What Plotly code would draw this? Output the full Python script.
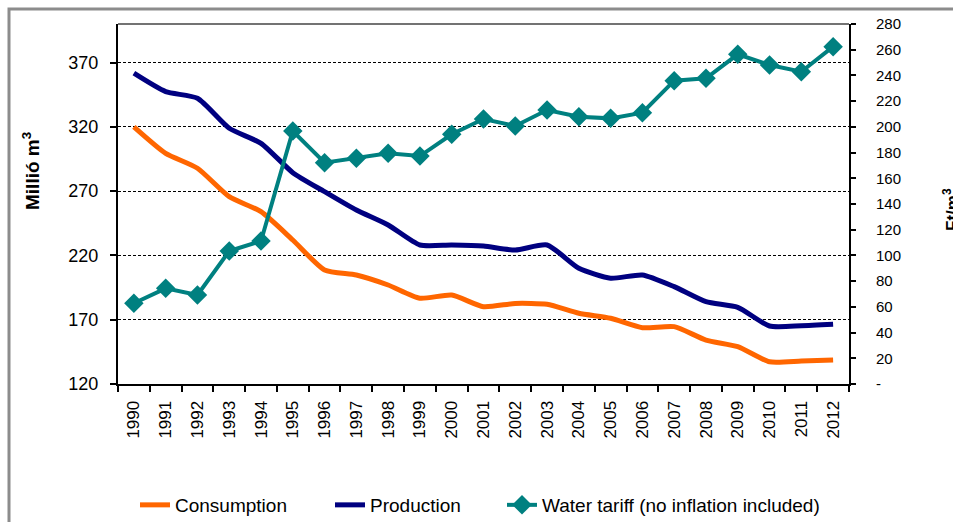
import plotly.graph_objects as go

years = [str(y) for y in range(1990, 2013)]

consumption = [320, 299.4, 287.8, 265.7, 254, 232, 208.7, 204.8, 197, 186.7, 189.2,
               180.1, 182.7, 182, 175, 171.1, 163.8, 164.6, 154.2, 149, 137.3, 137.9, 138.7]
production = [361.7, 347.4, 342.2, 318.9, 307.2, 284.4, 269.6, 255.3, 243.7, 228.1, 228.1,
              227.3, 224.2, 228.1, 210, 202.2, 204.8, 195.7, 184, 179.6, 165.1, 165.3, 166.4]
tariff = [62.8, 74.4, 69.2, 103.4, 111.2, 196.8, 172.1, 175.5, 179.4, 177.3, 194.2,
          206.1, 200.7, 213.1, 207.9, 206.6, 211, 235.9, 237.8, 256.4, 248.1, 242.9, 262.4]

left_ticks = [120, 170, 220, 270, 320, 370]
right_ticks = list(range(0, 281, 20))
right_ticktext = ["-"] + [str(v) for v in right_ticks[1:]]

W, H = 953, 522
L, R, T, B = 118, 849, 24, 384


def px_x(px):
    return (px - L) / (R - L)


def px_y(py):
    return (B - py) / (B - T)


FONT = "Liberation Sans, Arial, sans-serif"
LEG_FONT = dict(family=FONT, size=19, color="black")

fig = go.Figure()
fig.add_trace(go.Scatter(
    x=years, y=consumption, name="Consumption", mode="lines", legend="legend",
    line=dict(color="#FF6600", width=5, shape="spline", smoothing=0.6),
))
fig.add_trace(go.Scatter(
    x=years, y=production, name="Production", mode="lines", legend="legend2",
    line=dict(color="#000080", width=5, shape="spline", smoothing=0.6),
))
fig.add_trace(go.Scatter(
    x=years, y=tariff, name="Water tariff (no inflation included)", mode="lines+markers",
    legend="legend3",
    line=dict(color="#008080", width=4),
    marker=dict(symbol="diamond", size=15, color="#008080"),
    yaxis="y2",
))


def legend_at(px):
    return dict(
        orientation="h", x=px_x(px), y=px_y(505), xanchor="left", yanchor="middle",
        font=LEG_FONT, itemwidth=30, bgcolor="rgba(0,0,0,0)",
    )


fig.update_layout(
    width=W, height=H,
    margin=dict(l=L, r=W - R, t=T, b=H - B, autoexpand=False),
    paper_bgcolor="white", plot_bgcolor="white",
    font=dict(family=FONT, size=16, color="black"),
    showlegend=True,
    legend=legend_at(135),
    legend2=legend_at(330),
    legend3=legend_at(502),
    xaxis=dict(
        type="category", range=[-0.5, 22.5], tickangle=-90, tickson="boundaries",
        showline=True, linecolor="black", linewidth=2,
        ticks="outside", ticklen=6, tickcolor="black", tickwidth=1.5,
        showgrid=False, zeroline=False, ticklabelstandoff=8, automargin=False,
        tickfont=dict(size=17),
    ),
    yaxis=dict(
        range=[120, 400], tickvals=left_ticks,
        showline=True, linecolor="black", linewidth=2,
        ticks="outside", ticklen=6, tickcolor="black", tickwidth=1.5,
        showgrid=True, gridcolor="black", gridwidth=1, griddash="3px,2px",
        zeroline=False, ticklabelstandoff=8, automargin=False, tickfont=dict(size=18),
    ),
    yaxis2=dict(
        range=[0, 280], tickvals=right_ticks, ticktext=right_ticktext,
        overlaying="y", side="right",
        showline=True, linecolor="black", linewidth=2,
        ticks="outside", ticklen=5, tickcolor="black", tickwidth=1.5,
        showgrid=False, zeroline=False, ticklabelstandoff=17, automargin=False,
        tickfont=dict(size=15),
    ),
    annotations=[
        dict(text="<b>Millió m<sup>3</sup></b>", xref="paper", yref="paper",
             x=px_x(31), y=px_y(171), xanchor="center", yanchor="middle",
             textangle=-90, showarrow=False, font=dict(size=19, color="black")),
        dict(text="<b>Ft/m<sup>3</sup></b>", xref="paper", yref="paper",
             x=px_x(938), y=px_y(210), xanchor="left", yanchor="middle",
             textangle=-90, showarrow=False, font=dict(size=17, color="black")),
    ],
    shapes=[
        # outer frame
        dict(type="rect", xref="paper", yref="paper",
             x0=px_x(9), x1=px_x(970), y0=px_y(540), y1=px_y(9),
             line=dict(color="#8c8c8c", width=3), layer="below"),
        # top edge of plot area
        dict(type="line", xref="paper", yref="paper",
             x0=0, x1=1, y0=1, y1=1, line=dict(color="#444444", width=1.5)),
    ],
)

fig.write_html("out.html")
